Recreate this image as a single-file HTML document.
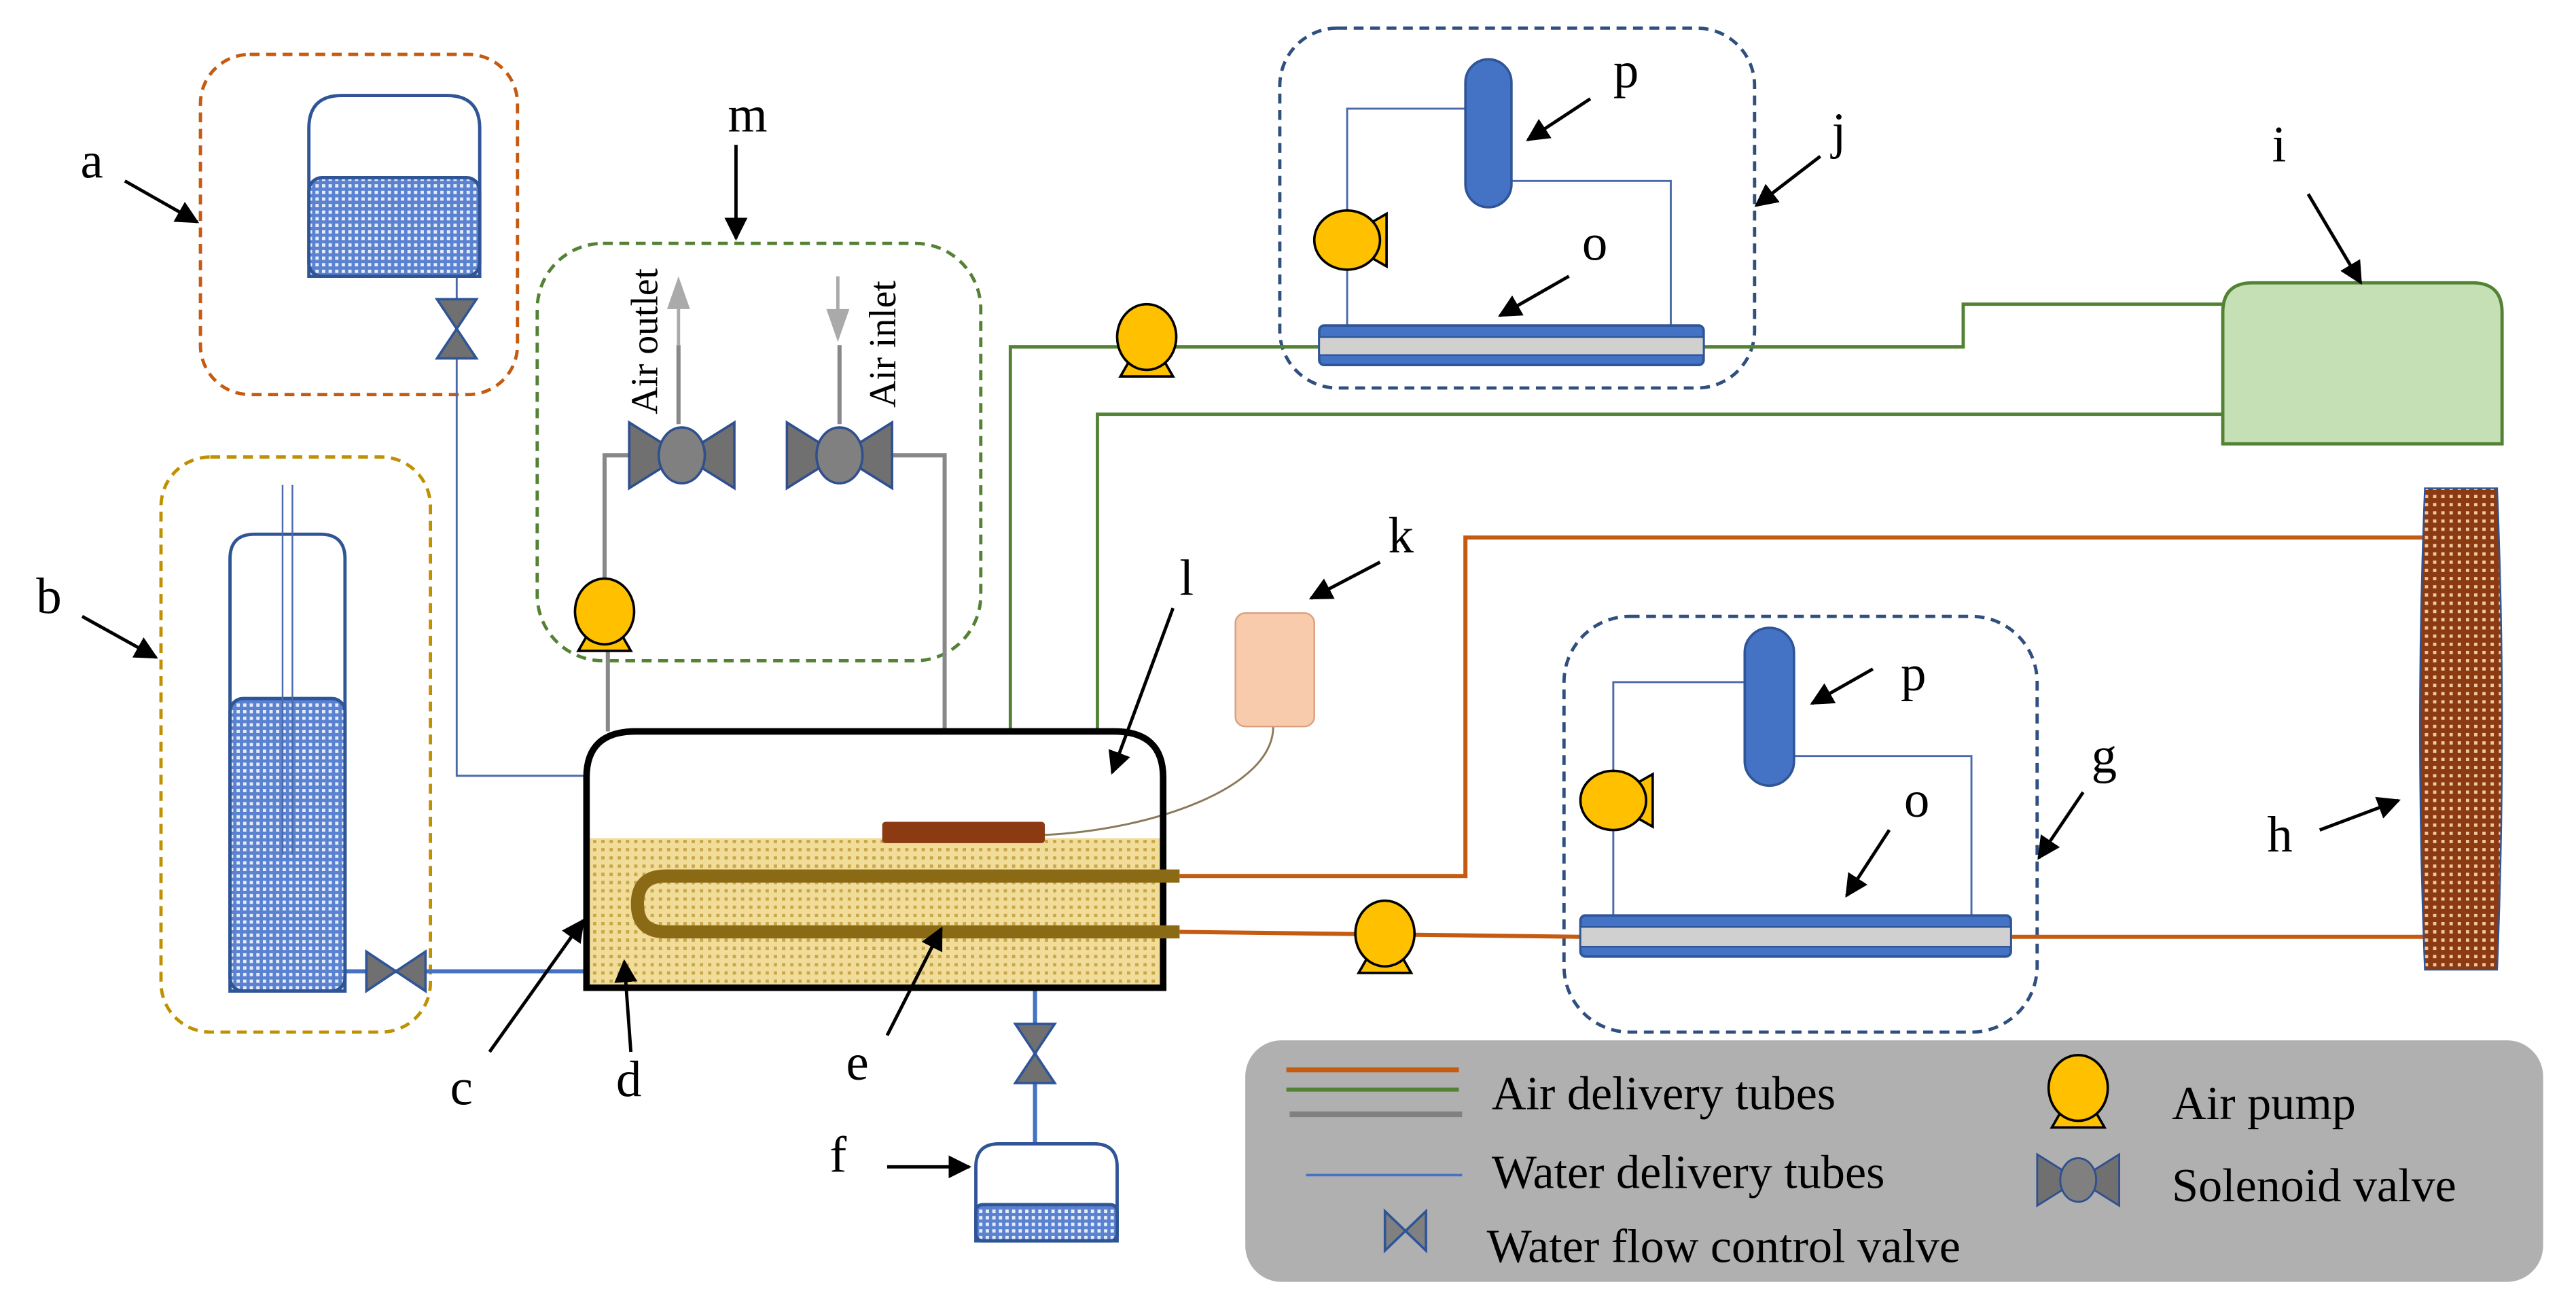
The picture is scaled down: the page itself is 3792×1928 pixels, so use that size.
<!DOCTYPE html>
<html><head><style>html,body{margin:0;padding:0;background:#fff}svg{display:block}</style></head>
<body>
<svg width="3792" height="1928" viewBox="0 0 1568 797" xmlns="http://www.w3.org/2000/svg" font-family="'Liberation Serif', serif">
<defs>
<pattern id="wat" width="4" height="4" patternUnits="userSpaceOnUse"><rect width="4" height="4" fill="#5a82d0"/><rect x="0" y="0" width="2" height="2" fill="#e6edf8"/></pattern>
<pattern id="soil" width="5" height="5" patternUnits="userSpaceOnUse"><rect width="5" height="5" fill="#f1dc9a"/><rect x="1" y="1" width="2" height="2" fill="#c8a848"/></pattern>
<pattern id="hp" width="5" height="5" patternUnits="userSpaceOnUse"><rect width="5" height="5" fill="#8b3a12"/><rect x="1" y="1" width="2" height="2" fill="#f0c8a0"/></pattern>
<marker id="ar" viewBox="0 0 10 10" refX="9" refY="5" markerWidth="7" markerHeight="7" orient="auto"><path d="M0,0L10,5L0,10z" fill="#000"/></marker>
<g id="pump"><path d="M-16,24 L16,24 L8,10 L-8,10 Z" fill="#ffc000" stroke="#000" stroke-width="1.5"/><ellipse cx="0" cy="0" rx="18" ry="20" fill="#ffc000" stroke="#000" stroke-width="1.5"/></g>
<g id="sol"><path d="M-32,-20 L-32,20 L0,0 Z M32,-20 L32,20 L0,0 Z" fill="#707070" stroke="#2f4f8f" stroke-width="1.5"/><ellipse cx="0" cy="0" rx="14" ry="17" fill="#808080" stroke="#2f4f8f" stroke-width="1.5"/></g>
<g id="vv"><path d="M-12,-18 L12,-18 L-12,18 L12,18 Z" fill="#707070" stroke="#2f5597" stroke-width="1.5"/></g>
</defs>
<g fill="none" stroke-dasharray="6,4" stroke-width="2">
<rect x="122" y="33" width="193" height="207" rx="30" stroke="#c55a11"/>
<rect x="98" y="278" width="164" height="350" rx="30" stroke="#bf9000"/>
<rect x="327" y="148" width="270" height="254" rx="40" stroke="#548235"/>
<rect x="779" y="17" width="289" height="219" rx="35" stroke="#2f4f7f"/>
<rect x="952" y="375" width="288" height="253" rx="40" stroke="#2f4f7f"/>
</g>
<g fill="none">
<path d="M278,168 L278,472 L357,472" stroke="#4a6aaa" stroke-width="1.2"/>
<path d="M210,591 L357,591" stroke="#4472c4" stroke-width="2.5"/>
<path d="M370,445 L370,395 M368,357 L368,277 L385,277 M413,258 L413,210 M511,258 L511,210 M543,277 L575,277 L575,445" stroke="#888" stroke-width="2.5"/>
<path d="M615,445 L615,211 L1195,211 L1195,185 L1353,185 M668,445 L668,252 L1353,252" stroke="#548235" stroke-width="2"/>
<path d="M718,533 L892,533 L892,327 L1476,327 M718,567 L962,570 M1224,570 L1476,570" stroke="#c55a11" stroke-width="2.5"/>
<path d="M630,601 L630,696" stroke="#4472c4" stroke-width="2.5"/>
<path d="M820,198 L820,66 L892,66 M920,110 L1017,110 L1017,198" stroke="#4a6aaa" stroke-width="1.2"/>
<path d="M982,557 L982,415 L1062,415 M1092,460 L1200,460 L1200,557" stroke="#4a6aaa" stroke-width="1.2"/>
<path d="M775,442 C775,480 700,505 636,508" stroke="#8a7a5a" stroke-width="1.2"/>
</g>
<path d="M188,168 L188,78 Q188,58 208,58 L272,58 Q292,58 292,78 L292,168 Z" fill="#fff" stroke="#2f5597" stroke-width="2"/>
<rect x="188" y="108" width="104" height="60" rx="8" fill="url(#wat)" stroke="#2f5597" stroke-width="2"/>
<use href="#vv" x="278" y="200"/>
<path d="M140,603 L140,340 Q140,325 155,325 L195,325 Q210,325 210,340 L210,603 Z" fill="#fff" stroke="#2f5597" stroke-width="2"/>
<rect x="140" y="425" width="70" height="178" rx="8" fill="url(#wat)" stroke="#2f5597" stroke-width="2"/>
<path d="M172,295 L172,520 M178,295 L178,520" stroke="#4a6aaa" stroke-width="1"/>
<use href="#vv" x="241" y="591" transform="rotate(90 241 591)"/>
<use href="#sol" x="415" y="277"/>
<use href="#sol" x="511" y="277"/>
<path d="M413,210 L413,185" stroke="#aaa" stroke-width="2"/><path d="M406,188 L413,168 L420,188 Z" fill="#aaa"/>
<path d="M510,168 L510,190" stroke="#aaa" stroke-width="2"/><path d="M503,188 L510,208 L517,188 Z" fill="#aaa"/>
<text transform="translate(400,252) rotate(-90)" font-size="23">Air outlet</text>
<text transform="translate(545,248) rotate(-90)" font-size="23">Air inlet</text>
<use href="#pump" x="368" y="372"/>
<rect x="359" y="510" width="347" height="89" fill="url(#soil)"/>
<path d="M357,601 L357,473 Q357,445 387,445 L678,445 Q708,445 708,473 L708,601 Z" fill="none" stroke="#000" stroke-width="4"/>
<rect x="537" y="500" width="99" height="13" rx="2" fill="#8b3a12"/>
<path d="M718,533 L405,533 Q388,533 388,550 Q388,567 405,567 L718,567" fill="none" stroke="#8a6a14" stroke-width="8"/>
<rect x="752" y="373" width="48" height="69" rx="6" fill="#f8cbad" stroke="#d9a080" stroke-width="1"/>
<use href="#vv" x="630" y="641"/>
<path d="M594,755 L594,710 Q594,696 608,696 L666,696 Q680,696 680,710 L680,755 Z" fill="#fff" stroke="#2f5597" stroke-width="2"/>
<rect x="594" y="733" width="86" height="22" rx="4" fill="url(#wat)" stroke="#2f5597" stroke-width="2"/>
<use href="#pump" x="698" y="205"/>
<use href="#pump" x="843" y="568"/>
<use href="#pump" x="820" y="146" transform="rotate(-90 820 146)"/>
<use href="#pump" x="982" y="487" transform="rotate(-90 982 487)"/>
<rect x="892" y="36" width="28" height="90" rx="14" fill="#4472c4" stroke="#2f5597" stroke-width="1.5"/>
<rect x="803" y="198" width="234" height="24" rx="3" fill="#4472c4" stroke="#2f5597" stroke-width="1.5"/>
<rect x="803" y="205" width="234" height="11" fill="#d0d0d0" stroke="#2f5597" stroke-width="1"/>
<rect x="1062" y="382" width="30" height="96" rx="15" fill="#4472c4" stroke="#2f5597" stroke-width="1.5"/>
<rect x="962" y="557" width="262" height="25" rx="3" fill="#4472c4" stroke="#2f5597" stroke-width="1.5"/>
<rect x="962" y="564" width="262" height="12" fill="#d0d0d0" stroke="#2f5597" stroke-width="1"/>
<path d="M1353,270 L1353,190 Q1353,172 1371,172 L1505,172 Q1523,172 1523,190 L1523,270 Z" fill="#c5e0b4" stroke="#548235" stroke-width="2"/>
<path d="M1476,297 L1520,297 Q1526,443 1520,590 L1476,590 Q1470,443 1476,297 Z" fill="url(#hp)" stroke="#2f5597" stroke-width="1"/>
<g font-size="31" fill="#000">
<text x="49" y="108">a</text><text x="22" y="373">b</text><text x="443" y="80">m</text>
<text x="274" y="672">c</text><text x="375" y="667">d</text><text x="515" y="657">e</text><text x="505" y="713">f</text>
<text x="718" y="362">l</text><text x="845" y="336">k</text><text x="982" y="53">p</text><text x="963" y="158">o</text>
<text x="1115" y="90">j</text><text x="1383" y="98">i</text><text x="1157" y="420">p</text><text x="1159" y="497">o</text>
<text x="1273" y="470">g</text><text x="1380" y="518">h</text>
</g>
<g stroke="#000" stroke-width="2" fill="none" marker-end="url(#ar)">
<path d="M76,110 L120,135"/><path d="M50,375 L95,400"/><path d="M448,88 L448,145"/>
<path d="M298,640 L355,560"/><path d="M384,640 L380,585"/><path d="M540,630 L573,565"/><path d="M540,710 L590,710"/>
<path d="M714,370 L677,470"/><path d="M840,342 L798,364"/><path d="M968,60 L930,85"/><path d="M955,168 L913,192"/>
<path d="M1108,95 L1069,125"/><path d="M1405,118 L1437,172"/><path d="M1140,407 L1103,428"/><path d="M1150,505 L1124,545"/>
<path d="M1268,482 L1241,522"/><path d="M1412,505 L1460,487"/>
</g>
<rect x="758" y="633" width="790" height="147" rx="22" fill="#b0b0b0"/>
<path d="M783,651 L888,651" stroke="#c55a11" stroke-width="3"/>
<path d="M783,663 L888,663" stroke="#548235" stroke-width="2.5"/>
<path d="M785,678 L890,678" stroke="#808080" stroke-width="3.5"/>
<path d="M795,715 L890,715" stroke="#4472c4" stroke-width="1.5"/>
<path d="M843,737 L843,761 L868,737 L868,761 Z" fill="#808080" stroke="#2f5597" stroke-width="1.5"/>
<use href="#pump" x="1265" y="662"/>
<g transform="translate(1265,718) scale(0.78)"><use href="#sol"/></g>
<g font-size="29" fill="#000">
<text x="908" y="675">Air delivery  tubes</text>
<text x="908" y="723">Water delivery  tubes</text>
<text x="905" y="768">Water flow control valve</text>
<text x="1322" y="681">Air pump</text>
<text x="1322" y="731">Solenoid valve</text>
</g>
</svg>
</body></html>
